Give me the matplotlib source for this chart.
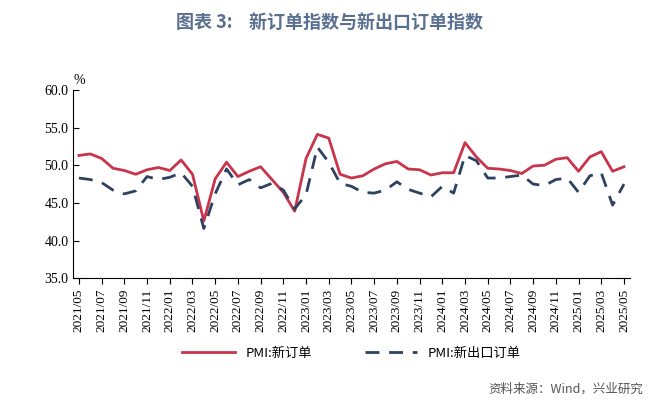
import matplotlib
matplotlib.use("Agg")
import matplotlib.pyplot as plt

plt.rcParams['font.family'] = ['Noto Sans CJK SC']

months = [f"{y}/{m:02d}" for y in range(2021, 2026) for m in range(1, 13)]
months = months[months.index("2021/05"):months.index("2025/05") + 1]
new_orders = [51.3, 51.5, 50.9, 49.6, 49.3, 48.8, 49.4, 49.7, 49.3, 50.7, 48.8, 42.6,
              48.2, 50.4, 48.5, 49.2, 49.8, 48.1, 46.4, 43.9, 50.9, 54.1, 53.6, 48.8,
              48.3, 48.6, 49.5, 50.2, 50.5, 49.5, 49.4, 48.7, 49.0, 49.0, 53.0, 51.1,
              49.6, 49.5, 49.3, 48.9, 49.9, 50.0, 50.8, 51.0, 49.2, 51.1, 51.8, 49.2, 49.8]
export_orders = [48.3, 48.1, 47.7, 46.7, 46.2, 46.6, 48.5, 48.1, 48.4, 49.0, 47.2, 41.6,
                 46.2, 49.5, 47.4, 48.1, 47.0, 47.6, 46.7, 44.2, 46.1, 52.4, 50.4, 47.6,
                 47.2, 46.4, 46.3, 46.7, 47.8, 46.8, 46.3, 45.8, 47.2, 46.3, 51.3, 50.6,
                 48.3, 48.3, 48.5, 48.7, 47.5, 47.3, 48.1, 48.3, 46.4, 48.6, 49.0, 44.7, 47.5]
yticks = [35.0, 40.0, 45.0, 50.0, 55.0, 60.0]

fig = plt.figure(figsize=(6.6, 4.05), dpi=100)
ax = fig.add_axes([0.111, 0.313, 0.843, 0.465])
x = list(range(len(months)))
ax.plot(x, new_orders, color='#C8344A', lw=2, label='PMI:新订单')
ax.plot(x, export_orders, color='#2E4160', lw=2, ls=(0, (5, 3.5)), label='PMI:新出口订单')
ax.set_xlim(-0.5, len(months) - 0.5)
ax.set_ylim(35, 60)
ax.set_yticks(yticks)
ax.set_yticklabels([f"{v:.1f}" for v in yticks], fontfamily='Liberation Serif', fontsize=10)
ax.set_xticks(x[::2])
ax.set_xticklabels(months[::2], rotation=90, fontfamily='Liberation Serif', fontsize=9.5)
for s in ['top', 'right']:
    ax.spines[s].set_visible(False)
ax.tick_params(direction='in', length=4)
ax.tick_params(axis='x', direction='out', length=4)
ax.text(-0.5, 60.8, '%', fontfamily='Liberation Serif', fontsize=10)
fig.text(0.5, 0.93, '图表 3:    新订单指数与新出口订单指数', ha='center', fontsize=13,
         color='#5A7090', fontweight='bold')
ax.legend(loc='upper center', bbox_to_anchor=(0.5, -0.3), ncol=2, frameon=False,
          fontsize=9.5, handlelength=4, columnspacing=4)
fig.text(0.975, 0.03, '资料来源：Wind，兴业研究', ha='right', fontsize=9, color='#555555')
fig.savefig('out.png', dpi=100)
